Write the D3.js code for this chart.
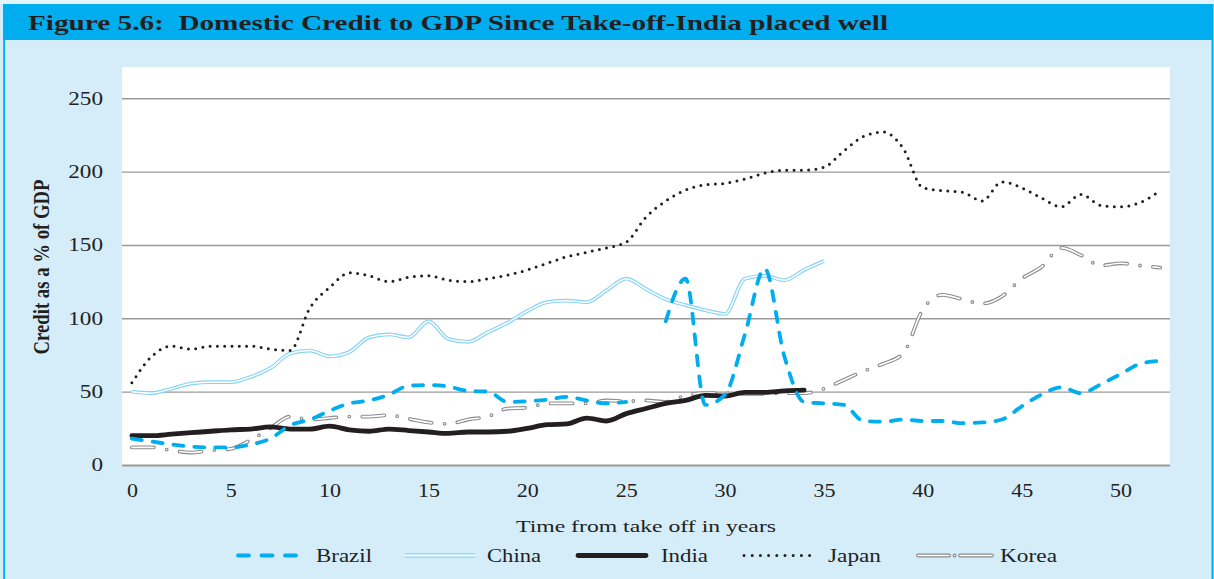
<!DOCTYPE html>
<html><head><meta charset="utf-8">
<script src="https://cdn.jsdelivr.net/npm/d3@7"></script>
<style>
body{margin:0;background:#d5ecf9;}
svg{display:block;font-family:"Liberation Serif","Times New Roman",serif;}
</style>
</head><body><svg id="c" width="1214" height="579"></svg>
<script>
const years = d3.range(0, 53);
const yTicks = [0, 50, 100, 150, 200, 250];
const xTicks = [0, 5, 10, 15, 20, 25, 30, 35, 40, 45, 50];
const brazil = [18,16,14,12.5,12,12,14,18,27,31,37,42,44,48,54,54.5,53.5,50.5,50,43,43.5,44.5,46.5,44,42,43,null,98,127,41,48,89,134,74,43,42,41,30,29.5,31,30,30,28.5,29,31,40,48,53,49,55,62,69,71];
const china = [50,49,52,55.5,56.5,56.5,60,66,76,78,74,77,87,89,87,98,86,84,90.5,97,105,111,112,111,119,127,120,113,109,105.5,103,127,129,126,133,139];
const india = [20,20,21,22,23,24,24.5,26,24.5,24.5,26.5,24,23,24.5,23.5,22.5,21.5,22.5,22.5,23,25,27.5,28,32,30,35,38.5,42,44,47.5,47,49.5,49.5,50.5,51];
const japan = [56,74,81,79,81,81,81,79,78,107,121,131,129,125,128,129,126,125,127,129.5,133,137.5,142,145,148,152,169,180,187.5,191,192,195,199,201,201,203,214,224,227,216,189,187,186,180,193,189,182,176,184.5,177,176,179,187];
const korea = [12,12,10,8.5,10,11,17,25,33,31,32,33,33,34,31.5,29,28,31,33,38.5,39,42,42,42,44,43.5,44,43,47.5,49,49,48.5,48.5,49,49,52,58,64,69,76,106,116,113,110,115,127,135,148,143,136,137.5,136,134.5];
const seriesNames = ["Brazil","China","India","Japan","Korea"];
const title = "Figure 5.6:  Domestic Credit to GDP Since Take-off-India placed well";
const xTitle = "Time from take off in years";
const yTitle = "Credit as a % of GDP";

const svg = d3.select("#c");
const W = 1214, H = 579;
svg.append("rect").attr("x",0).attr("y",0).attr("width",W).attr("height",H).attr("fill","#d5ecf9");
svg.append("rect").attr("x",0).attr("y",0).attr("width",W).attr("height",4).attr("fill","#e3f4fc");
svg.append("rect").attr("x",3).attr("y",4).attr("width",W-4).attr("height",36).attr("fill","#00aeef");
svg.append("rect").attr("x",3.2).attr("y",4).attr("width",1.8).attr("height",H).attr("fill","#00aeef");
svg.append("rect").attr("x",1211.5).attr("y",4).attr("width",2).attr("height",H).attr("fill","#00aeef");

function fit(sel, w){ sel.attr("textLength", w).attr("lengthAdjust","spacingAndGlyphs"); }

fit(svg.append("text").attr("x",28).attr("y",30).attr("font-size",21).attr("font-weight","bold")
  .style("white-space","pre").attr("fill","#231f20").text(title), 860);

const x = d3.scaleLinear().domain([-0.5, 52.5]).range([122, 1170]);
const y = d3.scaleLinear().domain([0, 250]).range([465, 98.3]);

svg.append("rect").attr("x",122).attr("y",67).attr("width",1048).attr("height",398).attr("fill","#fff");

const yAxis = d3.axisLeft(y).tickValues(yTicks).tickSize(-1048).tickFormat(d3.format("d"));
const gy = svg.append("g").attr("transform","translate(122,0)").call(yAxis);
gy.select(".domain").remove();
gy.selectAll(".tick line").attr("stroke","#9a9a9a").attr("stroke-width",1.4);
gy.selectAll(".tick text").attr("x",-19).attr("font-size",18).attr("fill","#231f20")
  .attr("font-family","Liberation Serif")
  .each(function(d){ fit(d3.select(this), String(d).length*11.6); });
gy.selectAll(".tick").filter(d=>d===0).select("line").attr("stroke","#999").attr("stroke-width",2.2);

const xAxis = d3.axisBottom(x).tickValues(xTicks).tickSize(0).tickFormat(d3.format("d"));
const gx = svg.append("g").attr("transform","translate(0,465)").call(xAxis);
gx.select(".domain").remove();
gx.selectAll(".tick text").attr("y",19).attr("font-size",18).attr("fill","#231f20")
  .attr("font-family","Liberation Serif")
  .each(function(d){ fit(d3.select(this), String(d).length*11); });

fit(svg.append("text").attr("x",646).attr("y",532).attr("text-anchor","middle").attr("font-size",17.5)
  .attr("fill","#231f20").text(xTitle), 260);
svg.append("text").attr("transform","translate(49,267) rotate(-90) scale(1,1.25)").attr("text-anchor","middle")
  .attr("font-size",18).attr("font-weight","bold").attr("fill","#231f20").attr("textLength",175)
  .attr("lengthAdjust","spacingAndGlyphs").text(yTitle);

const line = d3.line().defined(d => d[1] != null).x(d => x(d[0])).y(d => y(d[1])).curve(d3.curveMonotoneX);
const pts = arr => arr.map((v,i)=>[years[i], v]);

const styles = {
  Korea: [
    {stroke:"#8a8a8a", w:3.8, dash:"22,13,0,13", cap:"round"},
    {stroke:"#ffffff", w:1.6, dash:"22,13,0,13", cap:"round"}],
  China: [
    {stroke:"#86d3f4", w:3.8, dash:null, cap:"butt"},
    {stroke:"#ffffff", w:1.5, dash:null, cap:"butt"}],
  Japan: [{stroke:"#231f20", w:3, dash:"0,7.3", cap:"round"}],
  India: [{stroke:"#231f20", w:4.8, dash:null, cap:"round"}],
  Brazil: [{stroke:"#00aeef", w:3.8, dash:"10,11", cap:"round"}]
};
const dataMap = {Brazil: brazil, China: china, India: india, Japan: japan, Korea: korea};
const plotG = svg.append("g");
["Korea","China","Japan","India","Brazil"].forEach(name=>{
  styles[name].forEach(s=>{
    plotG.append("path").datum(pts(dataMap[name])).attr("d", line)
      .attr("fill","none").attr("stroke",s.stroke).attr("stroke-width",s.w)
      .attr("stroke-dasharray",s.dash).attr("stroke-linecap",s.cap).attr("stroke-linejoin","round");
  });
});

// legend
const legend = [
  {name:"Brazil", x1:238, x2:296, tx:316, tw:56, dash:"11,12.5"},
  {name:"China", x1:405, x2:475, tx:487, tw:54, dash:null},
  {name:"India", x1:578, x2:646, tx:661, tw:47, dash:null},
  {name:"Japan", x1:744, x2:810, tx:828, tw:53, dash:"0,8.2"},
  {name:"Korea", x1:918, x2:992, tx:1000, tw:57, dash:"31,5.5,0,5.5,60"}
];
const ly = 555.5;
legend.forEach(l=>{
  styles[l.name].forEach(s=>{
    const w = l.name==="China" ? s.w+0.6 : s.w;
    svg.append("line").attr("x1",l.x1).attr("x2",l.x2).attr("y1",ly).attr("y2",ly)
      .attr("stroke",s.stroke).attr("stroke-width",w).attr("stroke-dasharray",l.dash)
      .attr("stroke-linecap",s.cap);
  });
  fit(svg.append("text").attr("x",l.tx).attr("y",ly+6).attr("font-size",18).attr("fill","#231f20").text(l.name), l.tw);
});
</script></body></html>
